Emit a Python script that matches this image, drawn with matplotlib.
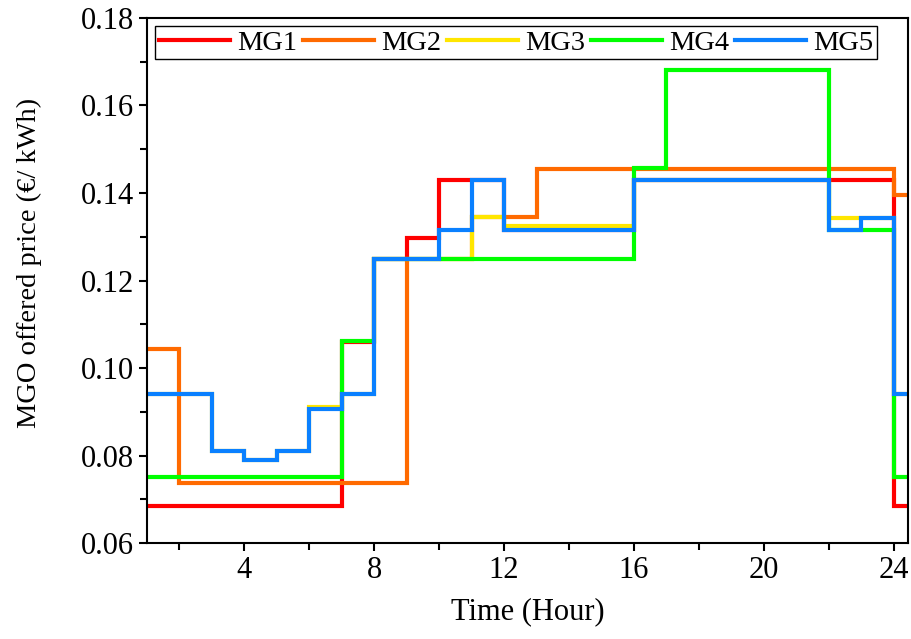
import numpy as np
import matplotlib
matplotlib.use("Agg")
from matplotlib import pyplot as plt
from matplotlib.ticker import MultipleLocator, FormatStrFormatter

# hourly offered prices (euro/kWh), hours 1..24
hours = np.arange(1, 25)

mg1 = [0.0685, 0.0685, 0.0685, 0.0685, 0.0685, 0.0685, 0.106, 0.125,
       0.1297, 0.143, 0.143, 0.1315, 0.1315, 0.1315, 0.1315, 0.143,
       0.143, 0.143, 0.143, 0.143, 0.143, 0.143, 0.143, 0.0685]
mg2 = [0.1043, 0.0737, 0.0737, 0.0737, 0.0737, 0.0737, 0.0737, 0.0737,
       0.125, 0.125, 0.1344, 0.1344, 0.1455, 0.1455, 0.1455, 0.1455,
       0.1455, 0.1455, 0.1455, 0.1455, 0.1455, 0.1455, 0.1455, 0.1395]
mg3 = [0.0941, 0.0941, 0.081, 0.079, 0.081, 0.0912, 0.0941, 0.125,
       0.125, 0.125, 0.1344, 0.1325, 0.1325, 0.1325, 0.1325, 0.143,
       0.143, 0.143, 0.143, 0.143, 0.143, 0.1343, 0.1343, 0.0941]
mg4 = [0.0751, 0.0751, 0.0751, 0.0751, 0.0751, 0.0751, 0.1061, 0.125,
       0.125, 0.125, 0.125, 0.125, 0.125, 0.125, 0.125, 0.1456,
       0.168, 0.168, 0.168, 0.168, 0.168, 0.1316, 0.1316, 0.0751]
mg5 = [0.0941, 0.0941, 0.081, 0.079, 0.081, 0.0906, 0.0941, 0.125,
       0.125, 0.1316, 0.143, 0.1316, 0.1316, 0.1316, 0.1316, 0.143,
       0.143, 0.143, 0.143, 0.143, 0.143, 0.1316, 0.1343, 0.0941]

series = [("MG1", mg1, "#FF0000"),
          ("MG2", mg2, "#FF6A00"),
          ("MG3", mg3, "#FFE600"),
          ("MG4", mg4, "#00FF00"),
          ("MG5", mg5, "#0A80FF")]

plt.rcParams["font.family"] = ["Liberation Serif", "DejaVu Serif"]
plt.rcParams["font.size"] = 20

fig = plt.figure(figsize=(9.12, 6.39), dpi=100)
ax = fig.add_axes([0.161, 0.150, 0.835, 0.822])

# last hour is held until the right edge of the axis
x_ext = np.append(hours, hours[-1] + 1)
for name, vals, col in series:
    y_ext = np.append(vals, vals[-1])
    ax.step(x_ext, y_ext, where="post", color=col, lw=3, label=name,
            solid_joinstyle="miter")

ax.set_xlim(1, 24.45)
ax.set_ylim(0.06, 0.18)
ax.xaxis.set_major_locator(MultipleLocator(4))
ax.xaxis.set_minor_locator(MultipleLocator(2))
ax.yaxis.set_major_locator(MultipleLocator(0.02))
ax.yaxis.set_minor_locator(MultipleLocator(0.01))
ax.yaxis.set_major_formatter(FormatStrFormatter("%.2f"))
ax.tick_params(which="both", direction="out", width=1.5, labelsize=22)
ax.tick_params(which="major", length=6)
ax.tick_params(which="minor", length=5)
for sp in ax.spines.values():
    sp.set_linewidth(1.5)

ax.set_xlabel("Time (Hour)", fontsize=22)
ax.set_ylabel("MGO offered price (\u20ac/ kWh)", fontsize=20.5)
ax.xaxis.set_label_coords(0.5, -0.103)
ax.yaxis.set_label_coords(-0.138, 0.534)

leg = ax.legend(loc="upper left", ncol=5, frameon=True, fancybox=False,
                edgecolor="black", framealpha=1, borderpad=0.12,
                handlelength=2.5, handletextpad=0.25, columnspacing=0.2,
                borderaxespad=0.3, fontsize=20.5)
leg.get_frame().set_linewidth(1.0)

fig.savefig("out.png", dpi=100)
